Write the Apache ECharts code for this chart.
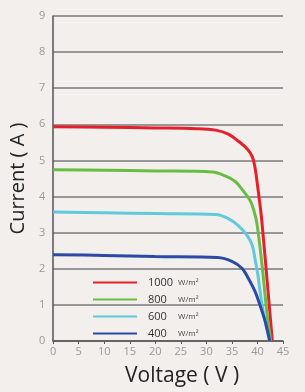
<!DOCTYPE html>
<html>
<head>
<meta charset="utf-8">
<script src="https://cdn.jsdelivr.net/npm/echarts@6/dist/echarts.min.js"></script>
<style>
  html, body { margin: 0; padding: 0; background: #f2efed; }
  #chart { width: 305px; height: 392px; }
</style>
</head>
<body>
<div id="chart"></div>
<script>
// irradiance levels (W/m²) and the I-V points, [voltage, current]
const levels = ['1000', '800', '600', '400'];
const curve1000 = [[0, 5.93], [10, 5.92], [20, 5.9], [28, 5.88], [31.8, 5.84], [34.3, 5.73], [36.2, 5.54], [38, 5.32], [39, 5.1], [39.5, 4.82], [39.9, 4.43], [40.3, 3.99], [40.7, 3.53], [41, 3.1], [42, 1.5], [42.9, 0]];
const curve800 = [[0, 4.74], [10, 4.73], [20, 4.71], [31.2, 4.68], [33.7, 4.57], [35.7, 4.41], [37.2, 4.16], [38.6, 3.88], [39.3, 3.61], [39.9, 3.25], [40.9, 2.1], [41.9, 0.72], [42.6, 0]];
const curve600 = [[0, 3.57], [10, 3.55], [20, 3.53], [31.8, 3.5], [34.3, 3.39], [36.2, 3.2], [38, 2.92], [39, 2.64], [39.5, 2.29], [40.1, 1.82], [40.5, 1.38], [41.1, 0.83], [41.9, 0.28], [42.4, 0]];
const curve400 = [[0, 2.39], [10, 2.37], [20, 2.34], [32.2, 2.31], [35.1, 2.2], [37, 2.01], [38.2, 1.74], [39.5, 1.38], [40.5, 0.99], [41.5, 0.55], [42.4, 0]];
const curves = [curve1000, curve800, curve600, curve400];
const colors = ['#e5202a', '#69bd45', '#62c8dc', '#2b4aa6'];

const chart = echarts.init(document.getElementById('chart'));

chart.setOption({
  backgroundColor: '#f2efed',
  animation: false,
  grid: { left: 51, right: 22, top: 16, bottom: 49 },
  legend: {
    data: levels,
    orient: 'vertical',
    left: 88,
    top: 272,
    icon: 'rect',
    itemWidth: 44,
    itemHeight: 2,
    itemGap: 6,
    formatter: name => '{a|' + name + '}{b|W/m²}',
    textStyle: {
      rich: {
        a: { fontFamily: 'Open Sans', fontSize: 11, color: '#333', width: 30, padding: [0, 0, 0, 6] },
        b: { fontFamily: 'Open Sans', fontSize: 8, color: '#444' }
      }
    }
  },
  xAxis: {
    type: 'value',
    min: 0,
    max: 45,
    interval: 5,
    name: 'Voltage ( V )',
    nameLocation: 'middle',
    nameGap: 25,
    nameTextStyle: { fontFamily: 'Open Sans', fontSize: 21, color: '#222', padding: [0, 0, 0, 28] },
    axisLine: { show: true, lineStyle: { color: '#555', width: 1.5 } },
    axisTick: { show: true, length: 3, lineStyle: { color: '#555' } },
    axisLabel: { fontFamily: 'Open Sans', fontSize: 11, color: '#999', margin: 5 },
    splitLine: { show: false }
  },
  yAxis: {
    type: 'value',
    min: 0,
    max: 9,
    interval: 1,
    name: 'Current ( A )',
    nameLocation: 'middle',
    nameGap: 20,
    nameTextStyle: { fontFamily: 'Open Sans', fontSize: 20, color: '#222' },
    axisLine: { show: true, lineStyle: { color: '#555', width: 1.5 } },
    axisTick: { show: false },
    axisLabel: { fontFamily: 'Open Sans', fontSize: 11, color: '#999', margin: 8 },
    splitLine: { show: true, lineStyle: { color: '#7a7a7a', width: 1.5 } }
  },
  series: levels.map((name, i) => ({
    name,
    type: 'line',
    data: curves[i],
    smooth: 0.35,
    symbol: 'none',
    lineStyle: { color: colors[i], width: 3 },
    itemStyle: { color: colors[i] }
  }))
});
</script>
</body>
</html>
